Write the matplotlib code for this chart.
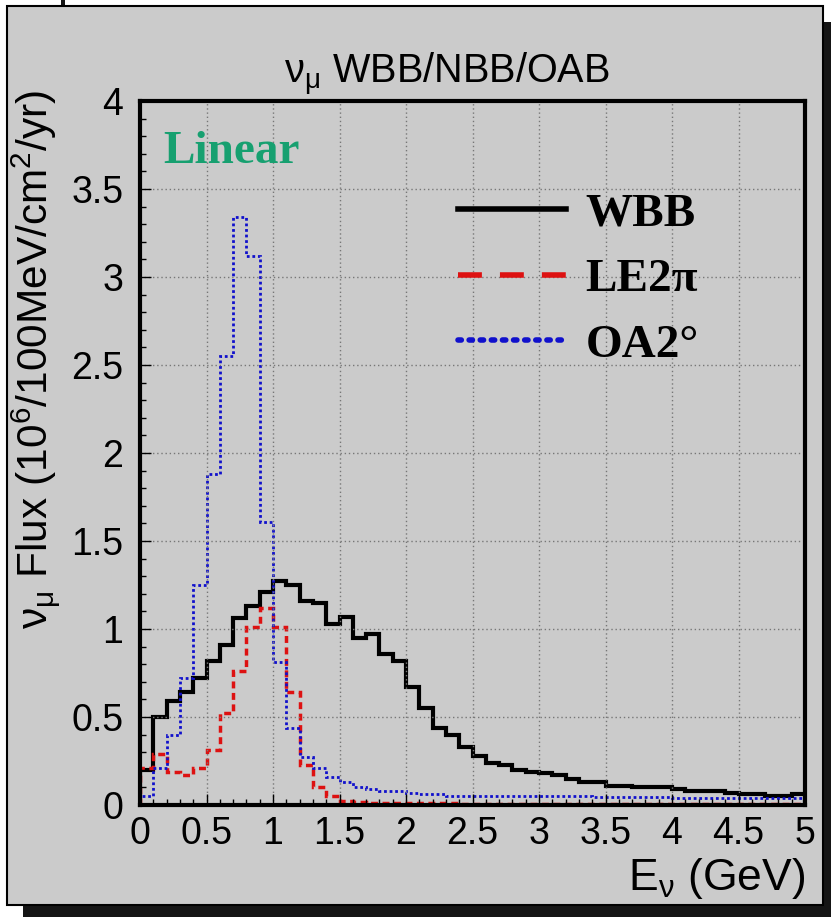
import numpy as np
import matplotlib
matplotlib.use("Agg")
import matplotlib.pyplot as plt
from matplotlib.patches import Rectangle
from matplotlib.lines import Line2D

plt.rcParams["font.family"] = ["Liberation Sans", "DejaVu Sans"]
plt.rcParams["mathtext.fontset"] = "custom"
plt.rcParams["mathtext.rm"] = "Liberation Sans"
plt.rcParams["mathtext.it"] = "Liberation Sans:italic"
plt.rcParams["mathtext.bf"] = "Liberation Sans:bold"

# 100 MeV bins, 0 - 5 GeV
edges = np.round(np.arange(0, 5.05, 0.1), 2)

# wide band beam
wbb = [0.20, 0.50, 0.59, 0.64, 0.72, 0.82, 0.91, 1.06, 1.13, 1.21,
       1.27, 1.25, 1.16, 1.15, 1.03, 1.07, 0.95, 0.97, 0.86, 0.82,
       0.67, 0.55, 0.44, 0.40, 0.33, 0.28, 0.24, 0.23, 0.20, 0.19,
       0.18, 0.17, 0.15, 0.13, 0.13, 0.11, 0.11, 0.10, 0.10, 0.10,
       0.09, 0.08, 0.08, 0.08, 0.07, 0.06, 0.06, 0.05, 0.05, 0.06]

# low energy 2pi
le2pi = [0.21, 0.29, 0.19, 0.17, 0.21, 0.31, 0.52, 0.76, 1.01, 1.12,
         1.01, 0.64, 0.23, 0.10, 0.05, 0.02, 0.015, 0.012, 0.01, 0.01,
         0.01, 0.01, 0.01, 0.01, 0.008, 0.008, 0.008, 0.008, 0.007, 0.007,
         0.007, 0.007, 0.006, 0.006, 0.006, 0.006, 0.006, 0.005, 0.005, 0.005,
         0.005, 0.005, 0.005, 0.005, 0.005, 0.005, 0.005, 0.005, 0.005, 0.005]

# 2 degree off axis
oa2 = [0.05, 0.21, 0.40, 0.72, 1.25, 1.88, 2.55, 3.34, 3.12, 1.61,
       0.81, 0.44, 0.27, 0.21, 0.16, 0.13, 0.10, 0.09, 0.08, 0.08,
       0.07, 0.06, 0.06, 0.05, 0.05, 0.05, 0.05, 0.05, 0.05, 0.05,
       0.05, 0.05, 0.05, 0.05, 0.045, 0.045, 0.045, 0.045, 0.045, 0.045,
       0.04, 0.04, 0.04, 0.04, 0.04, 0.04, 0.04, 0.04, 0.04, 0.04]

series_labels = ["WBB", "LE2π", "OA2°"]
x_ticks = [0, 0.5, 1, 1.5, 2, 2.5, 3, 3.5, 4, 4.5, 5]
y_ticks = [0, 0.5, 1, 1.5, 2, 2.5, 3, 3.5, 4]

W, H = 831, 917
BG = "#cbcbcb"
fig = plt.figure(figsize=(W / 100, H / 100), dpi=100, facecolor="white")

# drop shadow and grey canvas
fig.add_artist(Rectangle((23 / W, 0), 808 / W, 895 / H, transform=fig.transFigure,
                         facecolor="#151515", edgecolor="none", zorder=-3))
fig.add_artist(Rectangle((61 / W, 911 / H), 4 / W, 6 / H, transform=fig.transFigure,
                         facecolor="#151515", edgecolor="none", zorder=-3))
fig.add_artist(Rectangle((7 / W, 12 / H), 816 / W, 899 / H, transform=fig.transFigure,
                         facecolor=BG, edgecolor="black", lw=1.5, zorder=-2))

ax = fig.add_axes([140 / W, 112 / H, 665 / W, 704 / H])
ax.set_facecolor(BG)

ax.stairs(wbb, edges, color="black", lw=3)
ax.stairs(le2pi, edges, color="#dd1111", lw=2.5, ls=(0, (2, 1.3)))
ax.stairs(oa2, edges, color="#1010cc", lw=2.0, ls=(0, (1, 1)))

ax.set_xlim(0, 5)
ax.set_ylim(0, 4)
ax.set_xticks(x_ticks)
ax.set_xticklabels([f"{t:g}" for t in x_ticks])
ax.set_yticks(y_ticks)
ax.set_yticklabels([f"{t:g}" for t in y_ticks])
ax.set_xticks(np.arange(0, 5.01, 0.1), minor=True)
ax.set_yticks(np.arange(0, 4.01, 0.1), minor=True)
ax.tick_params(which="major", direction="in", length=8, width=1, labelsize=27,
               pad=8)
ax.tick_params(axis="y", which="major", pad=12)
ax.tick_params(which="minor", direction="in", length=4, width=1)
ax.grid(True, which="major", ls=(0, (1, 2)), color="#777777", lw=1)
for sp in ax.spines.values():
    sp.set_linewidth(3)

ax.text(0.035, 0.912, "Linear", transform=ax.transAxes, color="#17a070",
        fontsize=34, fontweight="bold", family="Liberation Serif", va="baseline")

handles = [Line2D([], [], color="black", lw=4),
           Line2D([], [], color="#dd1111", lw=4, ls=(0, (4.3, 3.25))),
           Line2D([], [], color="#1010cc", lw=4, ls=(0, (0.6, 1.4)),
                  dash_capstyle="round")]
ax.legend(handles, series_labels, loc="upper left", bbox_to_anchor=(0.478, 0.870),
          frameon=False, handlelength=2.3, handletextpad=0.4, labelspacing=0.48,
          borderpad=0, borderaxespad=0,
          prop={"family": "Liberation Serif", "weight": "bold", "size": 34})

fig.text(0.538, 1 - 83 / H, r"$\mathrm{\nu_{\mu}}$ WBB/NBB/OAB", ha="center",
         va="baseline", fontsize=28.5)
fig.text(805 / W, 27 / H, r"$\mathrm{E_{\nu}}$ (GeV)", ha="right", va="baseline",
         fontsize=32)
fig.text(36 / W, 1 - 90 / H,
         r"$\mathrm{\nu_{\mu}}$ Flux (10$^{6}$/100MeV/cm$^{2}$/yr)",
         rotation=90, ha="center", va="top", fontsize=30.5)

fig.savefig("out.png", dpi=100, facecolor="white")
